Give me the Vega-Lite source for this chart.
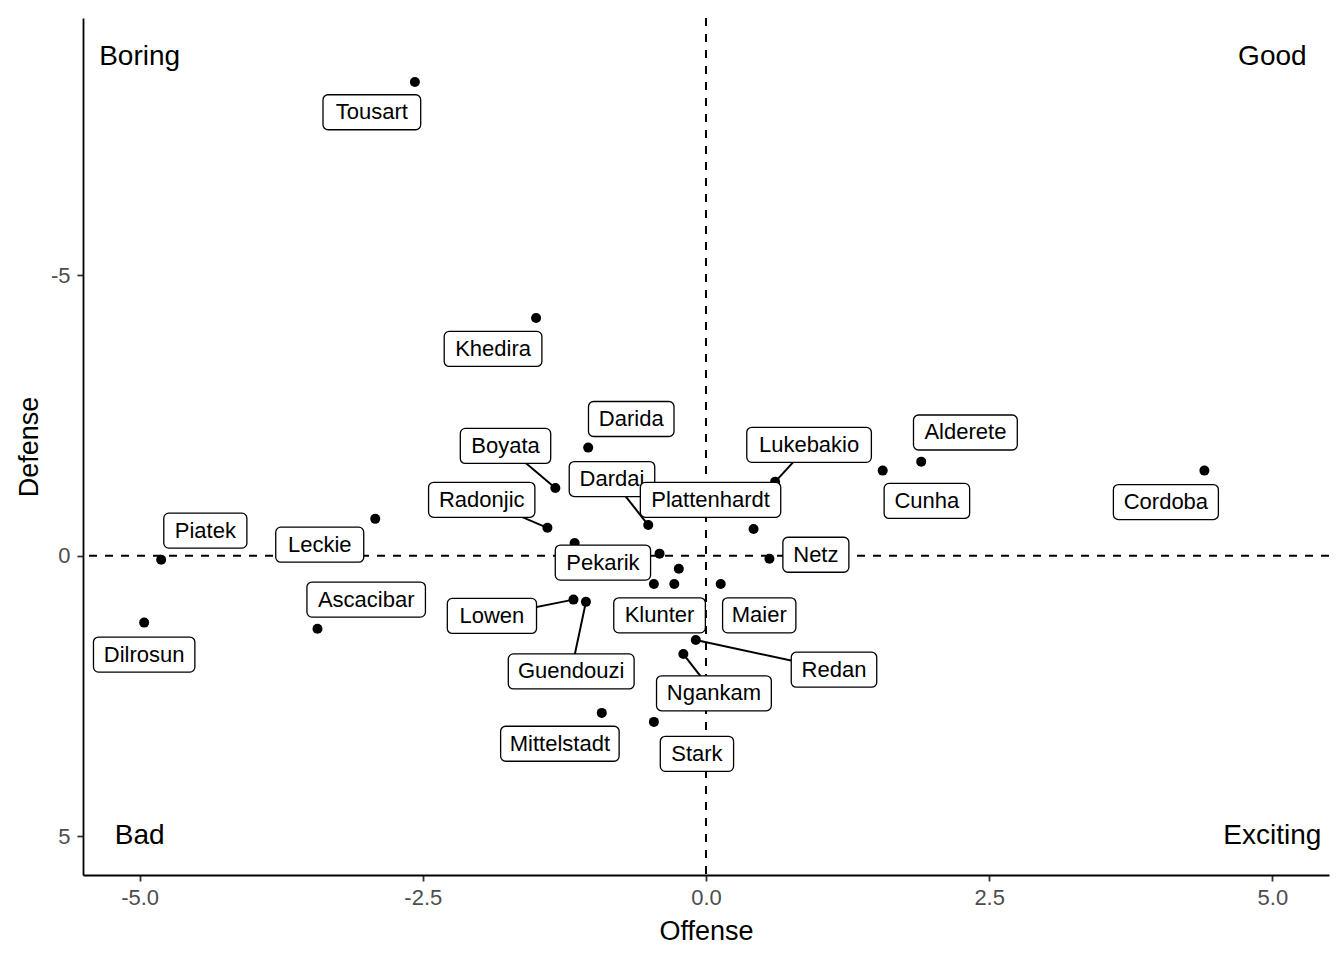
{
  "$schema": "https://vega.github.io/schema/vega-lite/v6.json",
  "width": 1246,
  "height": 857,
  "autosize": {"type": "none"},
  "padding": {"left": 83, "top": 18, "right": 15, "bottom": 85},
  "background": "white",
  "config": {
    "view": {"stroke": null},
    "font": "Liberation Sans",
    "axis": {
      "grid": false, "domainColor": "black", "domainWidth": 1.8, "tickColor": "#333333", "tickWidth": 1.8, "tickSize": 6,
      "labelFont": "Liberation Sans", "labelFontSize": 22, "labelColor": "#4D4D4D", "labelFlush": false,
      "titleFont": "Liberation Sans", "titleFontSize": 27, "titleFontWeight": "normal", "titleColor": "black"
    },
    "axisX": {"labelPadding": 6, "titlePadding": 10},
    "axisY": {"labelPadding": 7, "titlePadding": 7}
  },
  "datasets": {
    "players": [
      {"name": "Tousart", "offense": -2.57, "defense": -8.45, "lx": -2.95, "ly": -7.91},
      {"name": "Khedira", "offense": -1.50, "defense": -4.24, "lx": -1.88, "ly": -3.69},
      {"name": "Darida", "offense": -1.04, "defense": -1.93, "lx": -0.66, "ly": -2.44},
      {"name": "Boyata", "offense": -1.33, "defense": -1.21, "lx": -1.77, "ly": -1.96},
      {"name": "Dardai", "offense": -0.51, "defense": -0.55, "lx": -0.83, "ly": -1.37},
      {"name": "Radonjic", "offense": -1.40, "defense": -0.50, "lx": -1.98, "ly": -1.00},
      {"name": "Lukebakio", "offense": 0.61, "defense": -1.32, "lx": 0.91, "ly": -1.98},
      {"name": "Alderete", "offense": 1.90, "defense": -1.68, "lx": 2.29, "ly": -2.20},
      {"name": "Cunha", "offense": 1.56, "defense": -1.52, "lx": 1.95, "ly": -0.98},
      {"name": "Cordoba", "offense": 4.40, "defense": -1.52, "lx": 4.06, "ly": -0.96},
      {"name": "Piatek", "offense": -4.81, "defense": 0.07, "lx": -4.42, "ly": -0.45},
      {"name": "Leckie", "offense": -2.92, "defense": -0.66, "lx": -3.41, "ly": -0.20},
      {"name": "Pekarik", "offense": -1.16, "defense": -0.23, "lx": -0.91, "ly": 0.12},
      {"name": "Netz", "offense": 0.56, "defense": 0.05, "lx": 0.97, "ly": -0.02},
      {"name": "Ascacibar", "offense": -3.43, "defense": 1.30, "lx": -3.00, "ly": 0.78},
      {"name": "Lowen", "offense": -1.17, "defense": 0.78, "lx": -1.89, "ly": 1.07},
      {"name": "Guendouzi", "offense": -1.06, "defense": 0.82, "lx": -1.19, "ly": 2.06},
      {"name": "Klunter", "offense": -0.46, "defense": 0.50, "lx": -0.41, "ly": 1.06},
      {"name": "Maier", "offense": 0.13, "defense": 0.50, "lx": 0.47, "ly": 1.06},
      {"name": "Dilrosun", "offense": -4.96, "defense": 1.19, "lx": -4.96, "ly": 1.76},
      {"name": "Redan", "offense": -0.09, "defense": 1.50, "lx": 1.13, "ly": 2.03},
      {"name": "Ngankam", "offense": -0.20, "defense": 1.75, "lx": 0.07, "ly": 2.45},
      {"name": "Mittelstadt", "offense": -0.92, "defense": 2.80, "lx": -1.29, "ly": 3.35},
      {"name": "Stark", "offense": -0.46, "defense": 2.96, "lx": -0.08, "ly": 3.53},
      {"name": "Plattenhardt", "offense": 0.42, "defense": -0.48, "lx": 0.04, "ly": -1.00},
      {"name": null, "offense": -0.41, "defense": -0.04, "lx": null, "ly": null},
      {"name": null, "offense": -0.24, "defense": 0.23, "lx": null, "ly": null},
      {"name": null, "offense": -0.28, "defense": 0.50, "lx": null, "ly": null}
    ],
    "quadrants": [
      {"text": "Boring", "qx": -5, "qy": -8.9},
      {"text": "Good", "qx": 5, "qy": -8.9},
      {"text": "Bad", "qx": -5, "qy": 5},
      {"text": "Exciting", "qx": 5, "qy": 5}
    ]
  },
  "layer": [
    {
      "data": {"values": [{"v": 0}]},
      "mark": {"type": "rule", "strokeDash": [8, 8], "strokeWidth": 2, "color": "black"},
      "encoding": {
        "x": {"field": "v", "type": "quantitative", "scale": {"domain": [-5.5, 5.5], "nice": false, "zero": false},
              "axis": {"title": "Offense", "values": [-5, -2.5, 0, 2.5, 5], "labelExpr": "datum.value < 0 ? '-' + format(-datum.value, '.1f') : format(datum.value, '.1f')"}}
      }
    },
    {
      "data": {"values": [{"v": 0}]},
      "mark": {"type": "rule", "strokeDash": [8, 8], "strokeWidth": 2, "color": "black"},
      "encoding": {
        "y": {"field": "v", "type": "quantitative", "scale": {"domain": [-9.59, 5.69], "nice": false, "zero": false, "reverse": true},
              "axis": {"title": "Defense", "values": [-5, 0, 5], "labelExpr": "datum.value < 0 ? '-' + format(-datum.value, 'd') : format(datum.value, 'd')"}}
      }
    },
    {
      "data": {"name": "players"},
      "mark": {"type": "point", "filled": true, "size": 100, "color": "black", "opacity": 1},
      "encoding": {
        "x": {"field": "offense", "type": "quantitative", "scale": {"domain": [-5.5, 5.5], "nice": false, "zero": false},
              "axis": {"title": "Offense", "values": [-5, -2.5, 0, 2.5, 5], "labelExpr": "datum.value < 0 ? '-' + format(-datum.value, '.1f') : format(datum.value, '.1f')"}},
        "y": {"field": "defense", "type": "quantitative", "scale": {"domain": [-9.59, 5.69], "nice": false, "zero": false, "reverse": true},
              "axis": {"title": "Defense", "values": [-5, 0, 5], "labelExpr": "datum.value < 0 ? '-' + format(-datum.value, 'd') : format(datum.value, 'd')"}}
      }
    },
    {
      "data": {"name": "players"},
      "transform": [{"filter": {"field": "name", "oneOf": ["Boyata", "Radonjic", "Dardai", "Lukebakio", "Lowen", "Guendouzi", "Redan", "Ngankam"]}}],
      "mark": {"type": "rule", "strokeWidth": 2, "color": "black"},
      "encoding": {
        "x": {"field": "offense", "type": "quantitative", "scale": {"domain": [-5.5, 5.5], "nice": false, "zero": false},
              "axis": {"title": "Offense", "values": [-5, -2.5, 0, 2.5, 5], "labelExpr": "datum.value < 0 ? '-' + format(-datum.value, '.1f') : format(datum.value, '.1f')"}},
        "y": {"field": "defense", "type": "quantitative", "scale": {"domain": [-9.59, 5.69], "nice": false, "zero": false, "reverse": true},
              "axis": {"title": "Defense", "values": [-5, 0, 5], "labelExpr": "datum.value < 0 ? '-' + format(-datum.value, 'd') : format(datum.value, 'd')"}},
        "x2": {"field": "lx"},
        "y2": {"field": "ly"}
      }
    },
    {
      "data": {"name": "players"},
      "transform": [{"filter": "isValid(datum.name) && datum.name != 'Plattenhardt'"}],
      "mark": {
        "type": "rect", "fill": "white", "stroke": "black", "strokeWidth": 1.3, "cornerRadius": 5,
        "xOffset": {"expr": "-(12.2*length(datum.name) - 7.3*(length(datum.name)-length(replace(datum.name,regexp('[ilj]','g'),''))) - 6.1*(length(datum.name)-length(replace(datum.name,regexp('[tf]','g'),''))) - 4.9*(length(datum.name)-length(replace(datum.name,regexp('r','g'),''))) - 1.2*(length(datum.name)-length(replace(datum.name,regexp('[kscvyz]','g'),''))) + 6.1*(length(datum.name)-length(replace(datum.name,regexp('m','g'),''))) + 3.7*(length(datum.name)-length(replace(datum.name,regexp('w','g'),''))) + 2.5*(length(datum.name)-length(replace(datum.name,regexp('[A-Z]','g'),''))) + 22)/2"},
        "x2Offset": {"expr": "(12.2*length(datum.name) - 7.3*(length(datum.name)-length(replace(datum.name,regexp('[ilj]','g'),''))) - 6.1*(length(datum.name)-length(replace(datum.name,regexp('[tf]','g'),''))) - 4.9*(length(datum.name)-length(replace(datum.name,regexp('r','g'),''))) - 1.2*(length(datum.name)-length(replace(datum.name,regexp('[kscvyz]','g'),''))) + 6.1*(length(datum.name)-length(replace(datum.name,regexp('m','g'),''))) + 3.7*(length(datum.name)-length(replace(datum.name,regexp('w','g'),''))) + 2.5*(length(datum.name)-length(replace(datum.name,regexp('[A-Z]','g'),''))) + 22)/2"},
        "yOffset": -17.5, "y2Offset": 17.5
      },
      "encoding": {
        "x": {"field": "lx", "type": "quantitative", "scale": {"domain": [-5.5, 5.5], "nice": false, "zero": false},
              "axis": {"title": "Offense", "values": [-5, -2.5, 0, 2.5, 5], "labelExpr": "datum.value < 0 ? '-' + format(-datum.value, '.1f') : format(datum.value, '.1f')"}},
        "x2": {"field": "lx"},
        "y": {"field": "ly", "type": "quantitative", "scale": {"domain": [-9.59, 5.69], "nice": false, "zero": false, "reverse": true},
              "axis": {"title": "Defense", "values": [-5, 0, 5], "labelExpr": "datum.value < 0 ? '-' + format(-datum.value, 'd') : format(datum.value, 'd')"}},
        "y2": {"field": "ly"}
      }
    },
    {
      "data": {"name": "players"},
      "transform": [{"filter": "isValid(datum.name) && datum.name != 'Plattenhardt'"}],
      "mark": {"type": "text", "font": "Liberation Sans", "fontSize": 22, "color": "black", "align": "center", "baseline": "middle"},
      "encoding": {
        "x": {"field": "lx", "type": "quantitative", "scale": {"domain": [-5.5, 5.5], "nice": false, "zero": false},
              "axis": {"title": "Offense", "values": [-5, -2.5, 0, 2.5, 5], "labelExpr": "datum.value < 0 ? '-' + format(-datum.value, '.1f') : format(datum.value, '.1f')"}},
        "y": {"field": "ly", "type": "quantitative", "scale": {"domain": [-9.59, 5.69], "nice": false, "zero": false, "reverse": true},
              "axis": {"title": "Defense", "values": [-5, 0, 5], "labelExpr": "datum.value < 0 ? '-' + format(-datum.value, 'd') : format(datum.value, 'd')"}},
        "text": {"field": "name"}
      }
    },
    {
      "data": {"name": "players"},
      "transform": [{"filter": "datum.name == 'Plattenhardt'"}],
      "mark": {
        "type": "rect", "fill": "white", "stroke": "black", "strokeWidth": 1.3, "cornerRadius": 5,
        "xOffset": {"expr": "-(12.2*length(datum.name) - 7.3*(length(datum.name)-length(replace(datum.name,regexp('[ilj]','g'),''))) - 6.1*(length(datum.name)-length(replace(datum.name,regexp('[tf]','g'),''))) - 4.9*(length(datum.name)-length(replace(datum.name,regexp('r','g'),''))) + 2.5*(length(datum.name)-length(replace(datum.name,regexp('[A-Z]','g'),''))) + 22)/2"},
        "x2Offset": {"expr": "(12.2*length(datum.name) - 7.3*(length(datum.name)-length(replace(datum.name,regexp('[ilj]','g'),''))) - 6.1*(length(datum.name)-length(replace(datum.name,regexp('[tf]','g'),''))) - 4.9*(length(datum.name)-length(replace(datum.name,regexp('r','g'),''))) + 2.5*(length(datum.name)-length(replace(datum.name,regexp('[A-Z]','g'),''))) + 22)/2"},
        "yOffset": -17.5, "y2Offset": 17.5
      },
      "encoding": {
        "x": {"field": "lx", "type": "quantitative", "scale": {"domain": [-5.5, 5.5], "nice": false, "zero": false},
              "axis": {"title": "Offense", "values": [-5, -2.5, 0, 2.5, 5], "labelExpr": "datum.value < 0 ? '-' + format(-datum.value, '.1f') : format(datum.value, '.1f')"}},
        "x2": {"field": "lx"},
        "y": {"field": "ly", "type": "quantitative", "scale": {"domain": [-9.59, 5.69], "nice": false, "zero": false, "reverse": true},
              "axis": {"title": "Defense", "values": [-5, 0, 5], "labelExpr": "datum.value < 0 ? '-' + format(-datum.value, 'd') : format(datum.value, 'd')"}},
        "y2": {"field": "ly"}
      }
    },
    {
      "data": {"name": "players"},
      "transform": [{"filter": "datum.name == 'Plattenhardt'"}],
      "mark": {"type": "text", "font": "Liberation Sans", "fontSize": 22, "color": "black", "align": "center", "baseline": "middle"},
      "encoding": {
        "x": {"field": "lx", "type": "quantitative", "scale": {"domain": [-5.5, 5.5], "nice": false, "zero": false},
              "axis": {"title": "Offense", "values": [-5, -2.5, 0, 2.5, 5], "labelExpr": "datum.value < 0 ? '-' + format(-datum.value, '.1f') : format(datum.value, '.1f')"}},
        "y": {"field": "ly", "type": "quantitative", "scale": {"domain": [-9.59, 5.69], "nice": false, "zero": false, "reverse": true},
              "axis": {"title": "Defense", "values": [-5, 0, 5], "labelExpr": "datum.value < 0 ? '-' + format(-datum.value, 'd') : format(datum.value, 'd')"}},
        "text": {"field": "name"}
      }
    },
    {
      "data": {"name": "quadrants"},
      "mark": {"type": "text", "font": "Liberation Sans", "fontSize": 28, "color": "black", "align": "center", "baseline": "middle"},
      "encoding": {
        "x": {"field": "qx", "type": "quantitative", "scale": {"domain": [-5.5, 5.5], "nice": false, "zero": false},
              "axis": {"title": "Offense", "values": [-5, -2.5, 0, 2.5, 5], "labelExpr": "datum.value < 0 ? '-' + format(-datum.value, '.1f') : format(datum.value, '.1f')"}},
        "y": {"field": "qy", "type": "quantitative", "scale": {"domain": [-9.59, 5.69], "nice": false, "zero": false, "reverse": true},
              "axis": {"title": "Defense", "values": [-5, 0, 5], "labelExpr": "datum.value < 0 ? '-' + format(-datum.value, 'd') : format(datum.value, 'd')"}},
        "text": {"field": "text"}
      }
    }
  ]
}
